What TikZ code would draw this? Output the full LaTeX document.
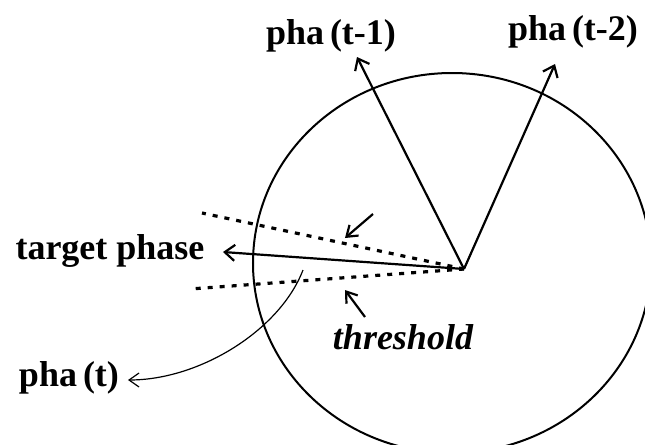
\documentclass[tikz,border=0pt]{standalone}
\usepackage{fontspec}
\setmainfont{Liberation Serif}
\usetikzlibrary{arrows.meta,positioning}
\tikzset{
  lbl/.style={font=\fontsize{18}{20}\selectfont\bfseries, inner sep=1pt},
  vec/.style={-{Straight Barb[length=5pt,width=8pt]}, line width=1.1pt},
  dots/.style={line width=1.6pt, dash pattern=on 2.5pt off 3.5pt},
  ptr/.style={-{Straight Barb[length=5pt,width=7pt]}, line width=1.1pt},
}

\begin{document}
\begin{tikzpicture}[x=0.5pt, y=-0.5pt]
    \clip (0,0) rectangle (645,445);
    % phase circle
    \draw[line width=1pt] (452,263) ellipse [x radius=99.5pt, y radius=95pt];
    \coordinate (o) at (464,269);
    % labels
    \node[lbl] (t1) at (331,36) {pha\,(t-1)};
    \node[lbl] (t2) at (573,32) {pha\,(t-2)};
    \node[lbl] (tgt) at (110,251) {target phase};
    \node[lbl, font=\fontsize{18}{20}\selectfont\bfseries\itshape] (thr) at (403,337) {threshold};
    \node[lbl] (pt) at (69,378) {pha\,(t)};
    % vector tips
    \coordinate (e1) at (357,57);
    \coordinate (e2) at (555,64);
    \coordinate (e0) at (223,252);
    \foreach \v in {e1,e2,e0} \draw[vec] (o) -- (\v);
    % threshold band
    \coordinate (d1) at (202,213);
    \coordinate (d2) at (190,289);
    \foreach \v in {d1,d2} \draw[dots] (o) -- (\v);
    \coordinate (u1) at (373,214);
    \coordinate (u2) at (345,238);
    \coordinate (w1) at (365,317);
    \coordinate (w2) at (345,290);
    \draw[ptr] (u1) -- (u2);
    \draw[ptr] (w1) -- (w2);
    % current phase
    \coordinate (c0) at (303,270);
    \coordinate (c1) at (128,380);
    \draw[-{Straight Barb[length=5pt,width=7pt]}, line width=0.6pt] (c0) .. controls (280,330) and (200,380) .. (c1);
\end{tikzpicture}
\end{document}
